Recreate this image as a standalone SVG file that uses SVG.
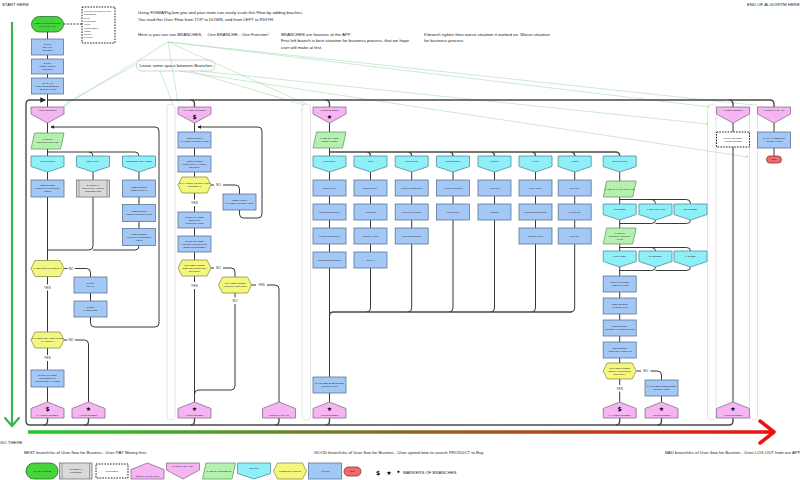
<svg xmlns="http://www.w3.org/2000/svg" width="800" height="480" viewBox="0 0 800 480">
<style>
.t{font-family:"Liberation Sans",Arial,sans-serif;font-size:2.4px;fill:#2a2a2a;text-anchor:middle}
.tl{font-family:"Liberation Sans",Arial,sans-serif;font-size:2.2px;fill:#2a2a2a}
.n{font-family:"Liberation Sans",Arial,sans-serif;font-size:4.3px;fill:#222}
.lb{font-family:"Liberation Sans",Arial,sans-serif;font-size:3.4px;fill:#333;text-anchor:middle}
.a{fill:#a3c8f6;stroke:#5c7795;stroke-width:.8}
.p{fill:#f5b5f3;stroke:#8b6d8b;stroke-width:.8}
.c{fill:#8eeff8;stroke:#4d8f99;stroke-width:.8}
.g{fill:#b4f0ae;stroke:#6d9b6a;stroke-width:.8}
.y{fill:#f3f77c;stroke:#90904a;stroke-width:.8}
.x{fill:#d9d9d9;stroke:#777;stroke-width:.8}
.s{fill:#45d53b;stroke:#2c6b2a;stroke-width:.8}
.r{fill:#f06a6a;stroke:#8a3030;stroke-width:.8}
.d{fill:#fff;stroke:#222;stroke-width:1;stroke-dasharray:1.6 1.2}
.l{fill:none;stroke:#222;stroke-width:.9}
.b{fill:none;stroke:#4a4a4a;stroke-width:1.4}
.gl{fill:none;stroke:#a9dcae;stroke-width:.6}
.lane{fill:#fff;stroke:#dcdcdc;stroke-width:.8}
.m{font-family:"DejaVu Sans",sans-serif;font-size:6px;fill:#000;text-anchor:middle;font-weight:bold}
</style>
<defs>
<polygon id="pd" points="0,0 33,0 33,7 16.5,16 0,7"/>
<polygon id="pu" points="0,6.5 16.5,0 33,6.5 33,16 0,16"/>
<polygon id="cy" points="0,0 33,0 33,10.5 16.5,16 0,10.5"/>
<polygon id="hx" points="0,8 4,0 29,0 33,8 29,16 4,16"/>
<polygon id="pg" points="3.5,0 33,0 29.5,16 0,16"/>
<marker id="ar" viewBox="0 0 6 6" refX="5" refY="3" markerWidth="4" markerHeight="4" orient="auto"><path d="M0,0 L6,3 L0,6z" fill="#222"/></marker>
<marker id="ag" viewBox="0 0 6 6" refX="5" refY="3" markerWidth="5" markerHeight="5" orient="auto"><path d="M0,0 L6,3 L0,6" fill="none" stroke="#a9dcae"/></marker>
<linearGradient id="gr" gradientUnits="userSpaceOnUse" x1="28" y1="0" x2="775" y2="0"><stop offset="0" stop-color="#1fcc2e"/><stop offset="0.5" stop-color="#8a6a1e"/><stop offset="1" stop-color="#f01010"/></linearGradient>
</defs>
<rect width="800" height="480" fill="#fff"/>

<g id="lanes">
<rect class="lane" x="167" y="104" width="8" height="316" rx="4"/>
<rect class="lane" x="302" y="104" width="8.5" height="316" rx="4"/>
<rect class="lane" x="707.5" y="104" width="8.5" height="316" rx="4"/>
<rect class="lane" x="749.5" y="104" width="8" height="316" rx="4"/>
</g>

<g id="notes">
<text class="n" x="2" y="6">START HERE</text>
<text class="n" x="747" y="5.5">END OF ALGORITM HERE</text>
<text class="n" x="0" y="443.5">GO THERE</text>
<text class="n" x="138" y="14">Using FIGMA/FigJam you and your team can easily scale this Flow by adding braches.</text>
<text class="n" x="138" y="21.3">You read this User Flow from TOP to DOWN, and from LEFT to RIGTH.</text>
<text class="n" x="138" y="35.5">Here is you can see BRANCHES.</text>
<text class="n" x="207.5" y="35.5">One BRANCHE - One Function!</text>
<text class="n" x="281" y="35.5">BRANCHES are features of the APP.</text>
<text class="n" x="281" y="42">First left branch is best situation  for business process, that we hope</text>
<text class="n" x="281" y="48.5">user will make at first.</text>
<text class="n" x="424" y="35.5">If branch righter then worse situation it worked on. Worse situation</text>
<text class="n" x="424" y="42">for business process.</text>
<rect x="136.5" y="60" width="78.5" height="11" rx="5" fill="#fff" stroke="#b5b5b5" stroke-width=".6"/>
<text class="n" x="139.5" y="66.8">Leave some space between Branches.</text>
<path class="gl" d="M168,42 L64,106" marker-end="url(#ag)"/>
<path class="gl" d="M137,64 L66,103"/>
<path class="gl" d="M168,42 L178,103"/>
<path class="gl" d="M168,42 L306,104"/>
<path class="gl" d="M168,42 L753,105"/>
<path class="gl" d="M168,42 L710,107"/>
<path class="gl" d="M200,71 L708,124" marker-end="url(#ag)"/>
<path class="gl" d="M180,71 L748,157" marker-end="url(#ag)"/>
<path class="gl" d="M160,71 L173,104"/>
<path class="gl" d="M190,71 L304,105"/>
<text class="n" x="24" y="453.5">BEST branch/es of User flow for Busines - User PAY Money first.</text>
<text class="n" x="314" y="453.5">GOOD branch/es of User flow for Busines - User spend time to search PRODUCT to Buy</text>
<text class="n" x="665" y="453.5">BAD branch/es of User flow for Busines - User LOG OUT from our APP</text>
</g>

<g id="axes">
<path d="M12,22 V426" stroke="#39b54a" stroke-width="2.2" fill="none"/>
<path d="M5,418 L12,426 L19,418" stroke="#39b54a" stroke-width="2.2" fill="none" stroke-linecap="round"/>
<path d="M28,432 H772" stroke="url(#gr)" stroke-width="3.5" fill="none"/>
<path d="M760,421 L774,432 L760,443" stroke="#f01010" stroke-width="3.5" fill="none" stroke-linecap="round" stroke-linejoin="round"/>
</g>

<g id="connectors">
<path class="l" d="M47.5,31.7 V107"/>
<path class="l" d="M63.5,24 H82" stroke-dasharray="2 1.3" stroke-width="1"/>
<path class="b" d="M733,418 V421 Q733,425 729,425 H30 Q26,425 26,421 V104 Q26,100 30,100 H45" marker-end="url(#ar)"/>
<path class="b" d="M47.5,100 H770 Q774,100 774,104 V107"/>
<path class="b" d="M190.5,100 Q194.5,100 194.5,104 V107"/>
<path class="b" d="M325.5,100 Q329.5,100 329.5,104 V107"/>
<path class="b" d="M729,100 Q733,100 733,104 V107"/>
<path class="b" d="M47.5,418 V421 Q47.5,425 43.5,425 M88.5,418 V421 Q88.5,425 84.5,425 M194.5,418 V421 Q194.5,425 190.5,425 M279,418 V421 Q279,425 275,425 M329.5,418 V421 Q329.5,425 325.5,425 M619.7,418 V421 Q619.7,425 615.7,425 M661.5,418 V421 Q661.5,425 657.5,425"/>
<path class="l" d="M47.5,122 V284.5 M47.5,290.5 V355 M47.5,361 V402"/>
<path class="l" d="M90.5,317 V323 Q90.5,327 94.5,327 H155 Q159,327 159,323 V131 Q159,127 155,127 H51" marker-end="url(#ar)"/>
<path class="l" d="M47.5,152 H135 Q139,152 139,156 M89,152 Q93,152 93,156"/>
<path class="l" d="M93,172 V246 Q93,250 89,250 H47.5 M139,172 V246 Q139,250 135,250 H93"/>
<path class="l" d="M64,268.5 H67.5 M75,268.5 H86.5 Q90.5,268.5 90.5,272.5 V301"/>
<path class="l" d="M64,340 H67.5 M75,340 H84.5 Q88.5,340 88.5,344 V402"/>
<path class="l" d="M194.5,123 V199.5 M194.5,206 V282 M194.5,289 V402"/>
<path class="l" d="M239.5,210 V214 Q239.5,218 243.5,218 H258 Q262,218 262,214 V131 Q262,127 258,127 H198" marker-end="url(#ar)"/>
<path class="l" d="M211,185 H214 M223,185 H235.5 Q239.5,185 239.5,189 V194"/>
<path class="l" d="M211,268 H214 M223,268 H231 Q235,268 235,272 V277"/>
<path class="l" d="M251.5,285 H256 M267,285 H275 Q279,285 279,289 V402"/>
<path class="l" d="M235,293 V297.5 M235,304 V386 Q235,390 231,390 H198.5 Q194.5,390 194.5,394"/>
<path class="l" d="M329.5,123 V402"/>
<path class="b" d="M329.5,152 H615.7 Q619.7,152 619.7,156 M366.5,152 Q370.5,152 370.5,156 M407.7,152 Q411.7,152 411.7,156 M449,152 Q453,152 453,156 M490.5,152 Q494.5,152 494.5,156 M531.5,152 Q535.5,152 535.5,156 M570.7,152 Q574.7,152 574.7,156"/>
<path class="l" d="M370.5,172 V308 Q370.5,312 366.5,312 M411.7,172 V308 Q411.7,312 407.7,312 M453,172 V308 Q453,312 449,312 M494.5,172 V308 Q494.5,312 490.5,312 M535.5,172 V308 Q535.5,312 531.5,312 M574.7,172 V308 Q574.7,312 570.7,312"/>
<path class="b" d="M329.5,316 Q329.5,312 333.5,312 H572"/>
<path class="l" d="M619.7,172 V385 M619.7,391.5 V402"/>
<path class="l" d="M619.7,199.5 H686.5 Q690.5,199.5 690.5,203.5 V204 M651.5,199.5 Q655.5,199.5 655.5,203.5 V204"/>
<path class="l" d="M655.5,220 Q655.5,223.5 651.5,223.5 H619.7 M690.5,220 Q690.5,223.5 686.5,223.5 H655.5"/>
<path class="l" d="M619.7,247.5 H686.5 Q690.5,247.5 690.5,251 M651.5,247.5 Q655.5,247.5 655.5,251"/>
<path class="l" d="M655.5,267 Q655.5,270.5 651.5,270.5 H619.7 M690.5,267 Q690.5,270.5 686.5,270.5 H655.5"/>
<path class="l" d="M636.5,371 H641 M650.5,371 H657.5 Q661.5,371 661.5,375 V402"/>
<path class="l" d="M733,123 V402"/>
<path class="l" d="M774,123 V156"/>
</g>

<g id="start">
<rect class="s" x="31.5" y="16.5" width="32" height="15.5" rx="7.75"/>
<text class="t" x="47.5" y="23.5"><tspan x="47.5">USER OPEN BOOKING</tspan><tspan x="47.5" dy="3">&amp; TRAVEL APP</tspan></text>
</g>
<g id="comment-features">
<rect class="d" x="82" y="7" width="33" height="36"/>
<text class="tl" x="84" y="12"><tspan x="84">User can find apps for Find:</tspan><tspan x="84" dy="3.3">Destinations</tspan><tspan x="84" dy="3.3">Tours</tspan><tspan x="84" dy="3.3">Restaurants</tspan><tspan x="84" dy="3.3">Hotels</tspan><tspan x="84" dy="3.3">Transportation</tspan><tspan x="84" dy="3.3">Flights</tspan><tspan x="84" dy="3.3">Support</tspan><tspan x="84" dy="3.3">for Travel</tspan></text>
</g>
<g id="splash"><rect class="a" x="31.5" y="39" width="32" height="16"/><text class="t" y="44.9"><tspan x="47.5">SHOW</tspan><tspan x="47.5" dy="3">SPLASH</tspan><tspan x="47.5" dy="3">SCREEN</tspan></text></g>
<g id="onboarding"><rect class="a" x="31.5" y="59" width="32" height="15"/><text class="t" y="64.4"><tspan x="47.5">SHOW</tspan><tspan x="47.5" dy="3">ONBOARDING</tspan><tspan x="47.5" dy="3">SCREEN</tspan></text></g>
<g id="load-session"><rect class="a" x="31.5" y="78" width="32" height="16"/><text class="t" y="83.9"><tspan x="47.5">LOAD ALL</tspan><tspan x="47.5" dy="3">PREVIOUS SESSION</tspan><tspan x="47.5" dy="3">INFORMATION</tspan></text></g>

<g id="b1-login-screen"><use href="#pd" x="31" y="107" class="p"/><text class="t" x="47.5" y="111.3">LOGIN SCREEN</text></g>
<g id="b1-case-login"><use href="#pg" x="31" y="133" class="g"/><text class="t" y="140.3"><tspan x="47.5">CASE OF</tspan><tspan x="47.5" dy="3">LOGGING METHOD</tspan></text></g>
<g id="b1-login-form"><use href="#cy" x="31" y="156" class="c"/><text class="t" x="47.5" y="162">LOGIN FORM</text></g>
<g id="b1-3rd-party"><use href="#cy" x="76.5" y="156" class="c"/><text class="t" x="93" y="162">3RD PARTY</text></g>
<g id="b1-register"><use href="#cy" x="122.5" y="156" class="c"/><text class="t" x="139" y="162">REGISTER NEW USER</text></g>
<g id="b1-enter-login"><rect class="a" x="31" y="180" width="33" height="17"/><text class="t" y="186.4"><tspan x="47.5">USER ENTER</tspan><tspan x="47.5" dy="3">LOGIN &amp; PASSWORD</tspan><tspan x="47.5" dy="3">FORM</tspan></text></g>
<g id="b1-external"><rect class="x" x="76.5" y="180" width="33" height="17"/><path d="M79,180 V197 M107,180 V197" stroke="#777" stroke-width=".6"/><text class="t" y="186.4"><tspan x="93">EXTERNAL</tspan><tspan x="93" dy="3">3RD PARTY LOGIN</tspan><tspan x="93" dy="3">CONNECTION</tspan></text></g>
<g id="b1-enter-email"><rect class="a" x="122.5" y="180" width="33" height="17"/><text class="t" y="187.9"><tspan x="139">USER ENTER</tspan><tspan x="139" dy="3">USER &amp; EMAIL</tspan></text></g>
<g id="b1-enter-info"><rect class="a" x="122.5" y="204.5" width="33" height="17"/><text class="t" y="212.4"><tspan x="139">USER ENTER</tspan><tspan x="139" dy="3">USER'S INFORMATION</tspan></text></g>
<g id="b1-enter-login2"><rect class="a" x="122.5" y="228.5" width="33" height="17"/><text class="t" y="234.9"><tspan x="139">USER ENTER</tspan><tspan x="139" dy="3">LOGIN &amp; PASSWORD</tspan><tspan x="139" dy="3">FORM</tspan></text></g>
<g id="b1-password-q"><use href="#hx" x="31" y="260.5" class="y"/><text class="t" x="47.5" y="269.4">PASSWORD CORRECT ?</text><text class="lb" x="71.2" y="269.7">NO</text><text class="lb" x="47.5" y="288.7">YES</text></g>
<g id="b1-check-email"><rect class="a" x="74" y="277" width="33" height="16"/><text class="t" y="284.4"><tspan x="90.5">CHECK</tspan><tspan x="90.5" dy="3">EMAIL</tspan></text></g>
<g id="b1-check-password"><rect class="a" x="74" y="301" width="33" height="16"/><text class="t" y="308.4"><tspan x="90.5">CHECK</tspan><tspan x="90.5" dy="3">PASSWORD</tspan></text></g>
<g id="b1-payment-q"><use href="#hx" x="31" y="332" class="y"/><text class="t" y="339.4"><tspan x="47.5">IS THERE NOT CONFIRMED</tspan><tspan x="47.5" dy="3">PAYMENT ?</tspan></text><text class="lb" x="71.2" y="341.2">NO</text><text class="lb" x="47.5" y="359.2">YES</text></g>
<g id="b1-reminder"><rect class="a" x="31" y="370" width="33" height="17"/><text class="t" y="376.4"><tspan x="47.5">SHOW TO USER</tspan><tspan x="47.5" dy="3">REMINDER TO</tspan><tspan x="47.5" dy="3">COMPLETE PAYMENT</tspan></text></g>
<g id="b1-payment-screen"><use href="#pu" x="31" y="402" class="p"/><text class="m" x="47.5" y="411">$</text><text class="t" x="47.5" y="416.3">PAYMENT SCREEN</text></g>
<g id="b1-home-screen"><use href="#pu" x="72" y="402" class="p"/><text class="m" x="88.5" y="411">★</text><text class="t" x="88.5" y="416.3">HOME SCREEN</text></g>

<g id="b2-payment-screen"><use href="#pd" x="178" y="107" class="p"/><text class="t" x="194.5" y="110.8">PAYMENT SCREEN</text><text class="m" x="194.5" y="118.8">$</text></g>
<g id="b2-enter-payment"><rect class="a" x="178" y="132" width="33" height="16"/><text class="t" y="139.4"><tspan x="194.5">USER ENTER</tspan><tspan x="194.5" dy="3">PAYMENT INFORMATION</tspan></text></g>
<g id="b2-confirm"><rect class="a" x="178" y="156" width="33" height="16"/><text class="t" y="161.9"><tspan x="194.5">USER PRESS</tspan><tspan x="194.5" dy="3">"CONFIRM PAYMENT"</tspan><tspan x="194.5" dy="3">BUTTON</tspan></text></g>
<g id="b2-payment-q"><use href="#hx" x="178" y="177" class="y"/><text class="t" y="184.4"><tspan x="194.5">IS PAYMENT INFORMATION</tspan><tspan x="194.5" dy="3">CORRECT ?</tspan></text><text class="lb" x="218.5" y="186.2">NO</text><text class="lb" x="194.5" y="204">YES</text></g>
<g id="b2-check-payment"><rect class="a" x="223" y="194" width="33" height="16"/><text class="t" y="201.4"><tspan x="239.5">USER CHECK</tspan><tspan x="239.5" dy="3">PAYMENT INFORMATION</tspan></text></g>
<g id="b2-confirmation"><rect class="a" x="178" y="212" width="33" height="16"/><text class="t" y="217.9"><tspan x="194.5">SHOW TO USER</tspan><tspan x="194.5" dy="3">BOOKING</tspan><tspan x="194.5" dy="3">CONFIRMATION</tspan></text></g>
<g id="b2-ticket"><rect class="a" x="178" y="236" width="33" height="16"/><text class="t" y="241.9"><tspan x="194.5">SHOW TO USER</tspan><tspan x="194.5" dy="3">TICKET / DOWNLOAD</tspan><tspan x="194.5" dy="3">BOOKING SCREEN</tspan></text></g>
<g id="b2-new-booking-q"><use href="#hx" x="178" y="260" class="y"/><text class="t" y="265.9"><tspan x="194.5">DID USER PRESS</tspan><tspan x="194.5" dy="3">"SEE NEW BOOKING"</tspan><tspan x="194.5" dy="3">BUTTON?</tspan></text><text class="lb" x="218.5" y="269.2">NO</text><text class="lb" x="194.5" y="286.8">YES</text></g>
<g id="b2-logout-q"><use href="#hx" x="218.5" y="277" class="y"/><text class="t" y="284.4"><tspan x="235">DID USER PRESS</tspan><tspan x="235" dy="3">"LOGOUT" BUTTON?</tspan></text><text class="lb" x="261.5" y="286.2">YES</text><text class="lb" x="235" y="302.2">NO</text></g>
<g id="b2-home-screen"><use href="#pu" x="178" y="402" class="p"/><text class="m" x="194.5" y="411">★</text><text class="t" x="194.5" y="416.3">HOME SCREEN</text></g>
<g id="b2-logout"><use href="#pu" x="262.5" y="402" class="p"/><text class="t" x="279" y="416.3">LOGOUT THE APP</text></g>

<g id="b3-home-screen"><use href="#pd" x="313" y="107" class="p"/><text class="t" x="329.5" y="110.8">HOME SCREEN</text><text class="m" x="329.5" y="119">★</text></g>
<g id="b3-case-menu"><use href="#pg" x="313" y="132" class="g"/><text class="t" y="139.3"><tspan x="329.5">CASE OF HOME</tspan><tspan x="329.5" dy="3">MENU &amp; TOOL</tspan></text></g>
<g id="b3-destination"><use href="#cy" x="313" y="156" class="c"/><text class="t" x="329.5" y="162">Destination</text>
<rect class="a" x="313" y="180" width="33" height="16"/><text class="t" x="329.5" y="188.9">Where to go</text>
<rect class="a" x="313" y="204" width="33" height="16"/><text class="t" x="329.5" y="212.9">Nearest Destination</text>
<rect class="a" x="313" y="228" width="33" height="16"/><text class="t" x="329.5" y="236.9">Popular Destination</text>
<rect class="a" x="313" y="252" width="33" height="16"/><text class="t" x="329.5" y="260.9">Domestic Destination</text></g>
<g id="b3-tours"><use href="#cy" x="354" y="156" class="c"/><text class="t" x="370.5" y="162">Tours</text>
<rect class="a" x="354" y="180" width="33" height="16"/><text class="t" x="370.5" y="188.9">Special Offer</text>
<rect class="a" x="354" y="204" width="33" height="16"/><text class="t" x="370.5" y="212.9">Hot Deals</text>
<rect class="a" x="354" y="228" width="33" height="16"/><text class="t" x="370.5" y="236.9">Popular Hotels</text>
<rect class="a" x="354" y="252" width="33" height="16"/><text class="t" x="370.5" y="260.9">See All</text></g>
<g id="b3-restaurants"><use href="#cy" x="395.2" y="156" class="c"/><text class="t" x="411.7" y="162">Restaurants</text>
<rect class="a" x="395.2" y="180" width="33" height="16"/><text class="t" x="411.7" y="188.9">Popular Destination</text>
<rect class="a" x="395.2" y="204" width="33" height="16"/><text class="t" x="411.7" y="212.9">Traveller's Choice</text>
<rect class="a" x="395.2" y="228" width="33" height="16"/><text class="t" x="411.7" y="236.9">TOP Restaurants</text></g>
<g id="b3-transportation"><use href="#cy" x="436.5" y="156" class="c"/><text class="t" x="453" y="162">Transportation</text>
<rect class="a" x="436.5" y="180" width="33" height="16"/><text class="t" x="453" y="188.9">Airport Limo/Shop</text>
<rect class="a" x="436.5" y="204" width="33" height="16"/><text class="t" x="453" y="212.9">Rental Cars</text></g>
<g id="b3-support"><use href="#cy" x="478" y="156" class="c"/><text class="t" x="494.5" y="162">Support</text>
<rect class="a" x="478" y="180" width="33" height="16"/><text class="t" x="494.5" y="188.9">Audio Call</text>
<rect class="a" x="478" y="204" width="33" height="16"/><text class="t" x="494.5" y="212.9">Message</text></g>
<g id="b3-hotels"><use href="#cy" x="519" y="156" class="c"/><text class="t" x="535.5" y="162">Hotels</text>
<rect class="a" x="519" y="180" width="33" height="16"/><text class="t" x="535.5" y="188.9">TOP Hotels</text>
<rect class="a" x="519" y="204" width="33" height="16"/><text class="t" x="535.5" y="212.9">Domestic Destination</text>
<rect class="a" x="519" y="228" width="33" height="16"/><text class="t" x="535.5" y="236.9">Popular Hotels</text></g>
<g id="b3-flights"><use href="#cy" x="558.2" y="156" class="c"/><text class="t" x="574.7" y="162">Flights</text>
<rect class="a" x="558.2" y="180" width="33" height="16"/><text class="t" x="574.7" y="188.9">One Way</text>
<rect class="a" x="558.2" y="204" width="33" height="16"/><text class="t" x="574.7" y="212.9">Round Trip</text>
<rect class="a" x="558.2" y="228" width="33" height="16"/><text class="t" x="574.7" y="236.9">Multi City</text></g>
<g id="b3-save"><rect class="a" x="313" y="377" width="33" height="16"/><text class="t" y="384.4"><tspan x="329.5">SAVE USER'S SELECTED</tspan><tspan x="329.5" dy="3">INFORMATION</tspan></text></g>
<g id="b3-home-end"><use href="#pu" x="313" y="402" class="p"/><text class="m" x="329.5" y="411">★</text><text class="t" x="329.5" y="416.3">HOME SCREEN</text></g>

<g id="sr-search"><use href="#cy" x="603.2" y="156" class="c"/><text class="t" x="619.7" y="162">Search Route</text></g>
<g id="sr-case-package"><use href="#pg" x="603.2" y="181" class="g"/><text class="t" x="619.7" y="189.8">CASE OF PACKAGE TYPE</text></g>
<g id="sr-p1"><use href="#cy" x="603.2" y="204" class="c"/><text class="t" x="619.7" y="210">INCLUDED</text></g>
<g id="sr-p2"><use href="#cy" x="639" y="204" class="c"/><text class="t" x="655.5" y="210">HAND LUGGAGE</text></g>
<g id="sr-p3"><use href="#cy" x="674" y="204" class="c"/><text class="t" x="690.5" y="210">EXCLUDED</text></g>
<g id="sr-case-route"><use href="#pg" x="603.2" y="228" class="g"/><text class="t" y="233.8"><tspan x="619.7">CASE OF</tspan><tspan x="619.7" dy="3">ROUTE CATEGORY</tspan><tspan x="619.7" dy="3">TYPE</tspan></text></g>
<g id="sr-r1"><use href="#cy" x="603.2" y="251" class="c"/><text class="t" x="619.7" y="257">CHEAPEST</text></g>
<g id="sr-r2"><use href="#cy" x="639" y="251" class="c"/><text class="t" x="655.5" y="257">SHORTEST</text></g>
<g id="sr-r3"><use href="#cy" x="674" y="251" class="c"/><text class="t" x="690.5" y="257">FASTEST</text></g>
<g id="sr-alternatives"><rect class="a" x="603.2" y="276" width="33" height="16"/><text class="t" y="283.4"><tspan x="619.7">SHOW TO USER</tspan><tspan x="619.7" dy="3">ALTERNATIVES</tspan></text></g>
<g id="sr-select"><rect class="a" x="603.2" y="298" width="33" height="16"/><text class="t" y="305.4"><tspan x="619.7">USER SELECT</tspan><tspan x="619.7" dy="3">ALTERNATIVE</tspan></text></g>
<g id="sr-personal"><rect class="a" x="603.2" y="320" width="33" height="16"/><text class="t" y="327.4"><tspan x="619.7">USER ENTER</tspan><tspan x="619.7" dy="3">PERSONAL INFORMATION</tspan></text></g>
<g id="sr-additional"><rect class="a" x="603.2" y="342" width="33" height="16"/><text class="t" y="349.4"><tspan x="619.7">USER ENTER</tspan><tspan x="619.7" dy="3">ADDITIONAL DETAILS</tspan></text></g>
<g id="sr-book-q"><use href="#hx" x="603.2" y="363" class="y"/><text class="t" y="368.9"><tspan x="619.7">DID USER PRESS</tspan><tspan x="619.7" dy="3">"BOOK THE ROUTE"</tspan><tspan x="619.7" dy="3">BUTTON ?</tspan></text><text class="lb" x="645.7" y="372.2">NO</text><text class="lb" x="619.7" y="389.5">YES</text></g>
<g id="sr-save"><rect class="a" x="645" y="380" width="33" height="16"/><text class="t" y="387.4"><tspan x="661.5">SAVE USER'S SELECTED</tspan><tspan x="661.5" dy="3">INFORMATION</tspan></text></g>
<g id="sr-payment-screen"><use href="#pu" x="603.2" y="402" class="p"/><text class="m" x="619.7" y="411">$</text><text class="t" x="619.7" y="416.3">PAYMENT SCREEN</text></g>
<g id="sr-home-screen"><use href="#pu" x="645" y="402" class="p"/><text class="m" x="661.5" y="411">★</text><text class="t" x="661.5" y="416.3">HOME SCREEN</text></g>

<g id="guest-screen"><use href="#pd" x="716.5" y="107" class="p"/><text class="t" x="733" y="111.3">GUEST SCREEN</text></g>
<g id="guest-comment"><rect class="d" x="716.5" y="132" width="33" height="15"/><text class="t" y="138.9"><tspan x="733">SHOW TO USER</tspan><tspan x="733" dy="3">HOME SCREEN</tspan></text></g>
<g id="guest-home"><use href="#pu" x="716.5" y="402" class="p"/><text class="m" x="733" y="411">★</text><text class="t" x="733" y="416.3">HOME SCREEN</text></g>
<g id="logout-screen"><use href="#pd" x="757.5" y="107" class="p"/><text class="t" x="774" y="111.3">LOGOUT THE APP</text></g>
<g id="logout-save"><rect class="a" x="757.5" y="132" width="33" height="16"/><text class="t" y="139.4"><tspan x="774">SAVE ALL SESSION</tspan><tspan x="774" dy="3">INFORMATION</tspan></text></g>
<g id="logout-end"><rect class="r" x="766.5" y="156" width="15" height="7" rx="3.5"/><text class="t" x="774" y="160.4">END</text></g>

<g id="legend">
<rect class="s" x="26" y="463" width="32" height="16" rx="8"/><text class="t" x="42" y="471.9">APP START/END</text>
<rect class="x" x="59.5" y="463" width="32.5" height="16"/><path d="M62,463 V479 M89.5,463 V479" stroke="#777" stroke-width=".6"/><text class="t" y="470.4"><tspan x="75.7">EXTERNAL</tspan><tspan x="75.7" dy="3">PROCESS</tspan></text>
<rect class="d" x="96" y="464" width="32" height="14"/><text class="t" x="112" y="471.9">COMMENT</text>
<use href="#pu" x="131" y="463" class="p"/><text class="t" x="147.5" y="477">ENDING OF BRANCH</text>
<use href="#pd" x="166.5" y="463" class="p"/><text class="t" x="183" y="467.3">NAME OF BRANCH</text>
<use href="#pg" x="202.5" y="463" class="g"/><text class="t" x="219" y="471.9">CASE OF CONCEPTS</text>
<use href="#cy" x="237.5" y="463" class="c"/><text class="t" x="254" y="469">OPTION</text>
<use href="#hx" x="273.5" y="463" class="y"/><text class="t" x="290" y="471.9">QUESTION YES/NO</text>
<rect class="a" x="308.5" y="463" width="33" height="16"/><text class="t" x="325" y="471.9">ACTION</text>
<rect class="r" x="344" y="467" width="17" height="9" rx="4.5"/><text class="t" x="352.5" y="472.4">END</text>
<text class="m" x="378" y="474.5" font-size="7">$</text>
<text class="m" x="389" y="474.5" font-size="7">★</text>
<text class="m" x="398.5" y="474" font-size="5">•</text>
<text class="n" x="403" y="473.5">MARKERS OF BRANCHES</text>
</g>
</svg>
